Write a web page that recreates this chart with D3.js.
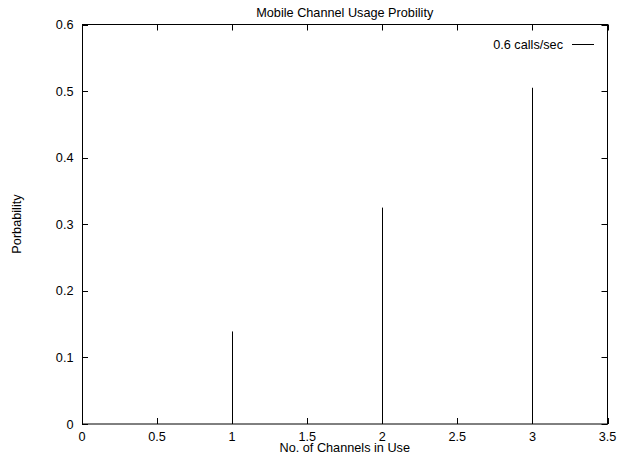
<!DOCTYPE html>
<html><head><meta charset="utf-8">
<script src="https://cdn.jsdelivr.net/npm/d3@7/dist/d3.min.js"></script>
<style>
body{margin:0;background:#fff;}
text{font-family:"Liberation Sans",Arial,sans-serif;font-size:12.7px;fill:#000;}
</style></head>
<body><svg id="c" width="621" height="462"></svg>
<script>
const channels = [1, 2, 3];
const probability = [0.139, 0.325, 0.505];
const xTicks = [0, 0.5, 1, 1.5, 2, 2.5, 3, 3.5];
const yTicks = [0, 0.1, 0.2, 0.3, 0.4, 0.5, 0.6];
const title = "Mobile Channel Usage Probility";
const xTitle = "No. of Channels in Use";
const yTitle = "Porbability";
const seriesName = "0.6 calls/sec";

const svg = d3.select("#c");
const L = 82, R = 607.5, T = 24.5, B = 424;
const x = d3.scaleLinear().domain([0, 3.5]).range([L, R]);
const y = d3.scaleLinear().domain([0, 0.6]).range([B, T]);
const tl = 6;

// ticks (mirrored, inward)
const g = svg.append("g").attr("stroke", "#000").attr("stroke-width", 1);
xTicks.forEach(v => {
  const px = Math.round(x(v)) + 0.5;
  g.append("line").attr("x1", px).attr("x2", px).attr("y1", B).attr("y2", B - tl);
  g.append("line").attr("x1", px).attr("x2", px).attr("y1", T).attr("y2", T + tl);
});
yTicks.forEach(v => {
  const py = Math.round(y(v)) + 0.5;
  g.append("line").attr("x1", L).attr("x2", L + tl).attr("y1", py).attr("y2", py);
  g.append("line").attr("x1", R).attr("x2", R - tl).attr("y1", py).attr("y2", py);
});

// impulses
svg.append("g").selectAll("line").data(channels).join("line")
  .attr("x1", (d) => Math.round(x(d)) + 0.5).attr("x2", (d) => Math.round(x(d)) + 0.5)
  .attr("y1", y(0)).attr("y2", (d, i) => y(probability[i]))
  .attr("stroke", "#000").attr("stroke-width", 1);

// border
svg.append("rect").attr("x", L + 0.5).attr("y", T).attr("width", R - L - 0.5).attr("height", B - T)
  .attr("fill", "none").attr("stroke", "#000").attr("stroke-width", 1);

// tick labels
svg.append("g").selectAll("text").data(xTicks).join("text")
  .attr("x", d => x(d)).attr("y", 440.5).attr("text-anchor", "middle").text(d => d);
svg.append("g").selectAll("text").data(yTicks).join("text")
  .attr("x", 73.5).attr("y", d => y(d) + 4.5).attr("text-anchor", "end").text(d => d);

// titles
svg.append("text").attr("x", (L + R) / 2).attr("y", 16.5).attr("text-anchor", "middle").text(title);
svg.append("text").attr("x", (L + R) / 2).attr("y", 451.5).attr("text-anchor", "middle").text(xTitle);
svg.append("text").attr("transform", "translate(21,224) rotate(-90)").attr("text-anchor", "middle").text(yTitle);

// legend
svg.append("text").attr("x", 563).attr("y", 48.5).attr("text-anchor", "end").text(seriesName);
svg.append("line").attr("x1", 572).attr("x2", 594).attr("y1", 44.5).attr("y2", 44.5)
  .attr("stroke", "#000").attr("stroke-width", 1);
</script></body></html>
